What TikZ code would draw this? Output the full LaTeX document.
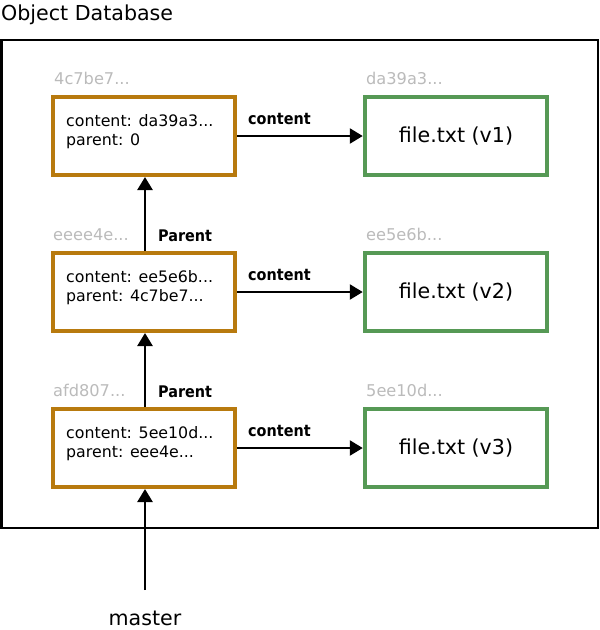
\documentclass[tikz,border=0pt]{standalone}
\usepackage{fontspec}
\setmainfont{DejaVu Sans}
\newfontfamily\labelfont{DejaVu Sans Condensed}
\usetikzlibrary{arrows.meta}
\definecolor{commitcol}{RGB}{184,122,14}
\definecolor{blobcol}{RGB}{86,153,85}
\definecolor{hashcol}{RGB}{187,187,187}
\tikzset{
  dbframe/.style={draw=black, line width=2.5pt},
  commitbox/.style={draw=commitcol, line width=4pt, fill=white, minimum width=182pt, minimum height=78pt, inner sep=0pt},
  blobbox/.style={draw=blobcol, line width=4.5pt, fill=white, minimum width=182pt, minimum height=78pt, inner sep=0pt, font=\fontsize{20.6}{24}\selectfont},
  hashtext/.style={text=hashcol, font=\fontsize{16.2}{19}\selectfont, anchor=base west, inner sep=0pt},
  fieldtext/.style={font=\fontsize{15.8}{19}\selectfont, anchor=base west, inner sep=0pt},
  edgelabel/.style={font=\labelfont\bfseries\fontsize{16}{19}\selectfont, anchor=base west, inner sep=0pt},
  ptr/.style={line width=2.5pt, -{Triangle[length=13pt,width=15pt]}},
}
\begin{document}
\begin{tikzpicture}[x=1pt, y=-1pt]
\useasboundingbox (0,0) rectangle (600,630);
\fill[white] (0,0) rectangle (600,630);

% database frame and title
\draw[dbframe] (1.5,40) rectangle (598,528);
\node[anchor=base west, inner sep=0pt, font=\fontsize{20.6}{24}\selectfont] (title) at (1,20) {Object Database};

% commits
\node[commitbox] (c1) at (144,136) {};
\node[commitbox] (c2) at (144,292) {};
\node[commitbox] (c3) at (144,448) {};

% blobs
\node[blobbox] (b1) at (456,136) {file.txt (v1)};
\node[blobbox] (b2) at (456,292) {file.txt (v2)};
\node[blobbox] (b3) at (456,448) {file.txt (v3)};

% object ids
\node[hashtext] (h1) at (54,84) {4c7be7...};
\node[hashtext] (h2) at (53,240) {eeee4e...};
\node[hashtext] (h3) at (53,396) {afd807...};
\node[hashtext] (hb1) at (366,84) {da39a3...};
\node[hashtext] (hb2) at (366,240) {ee5e6b...};
\node[hashtext] (hb3) at (366,396) {5ee10d...};

% commit fields
\node[fieldtext] (f1a) at (66,126) {content: da39a3...};
\node[fieldtext] (f1b) at (66,145) {parent: 0};
\node[fieldtext] (f2a) at (66,282) {content: ee5e6b...};
\node[fieldtext] (f2b) at (66,301) {parent: 4c7be7...};
\node[fieldtext] (f3a) at (66,438) {content: 5ee10d...};
\node[fieldtext] (f3b) at (66,457) {parent: eee4e...};

% content pointers
\draw[ptr] (c1.east) -- (b1.west);
\draw[ptr] (c2.east) -- (b2.west);
\draw[ptr] (c3.east) -- (b3.west);
\node[edgelabel] (l1) at (248,124) {content};
\node[edgelabel] (l2) at (248,280) {content};
\node[edgelabel] (l3) at (248,436) {content};

% parent pointers
\draw[ptr] ([xshift=1pt]c2.north) -- ([xshift=1pt]c1.south);
\draw[ptr] ([xshift=1pt]c3.north) -- ([xshift=1pt]c2.south);
\node[edgelabel] (p2) at (158,241) {Parent};
\node[edgelabel] (p3) at (158,397) {Parent};

% branch ref
\coordinate (mtail) at (145,590);
\node[anchor=base, inner sep=0pt, font=\fontsize{20.6}{24}\selectfont] (master) at (145,625) {master};
\draw[ptr] (mtail) -- ([xshift=1pt]c3.south);
\end{tikzpicture}
\end{document}
